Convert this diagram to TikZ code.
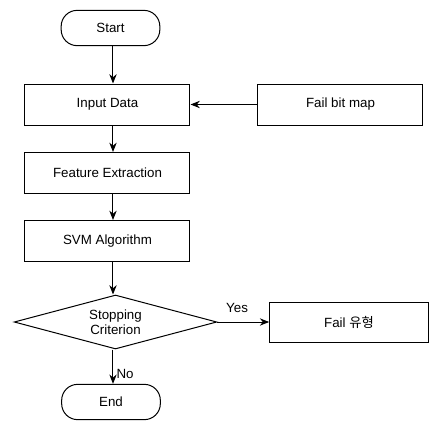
\documentclass[tikz,border=0pt]{standalone}
\usepackage{fontspec}
\setmainfont{Liberation Sans}
\newfontfamily\korfont{Noto Sans CJK KR}
\usetikzlibrary{shapes.geometric,arrows.meta}

\begin{document}
\begin{tikzpicture}[
    x=0.75pt, y=-0.75pt,
    proc/.style={rectangle, draw, minimum width=123.75pt, minimum height=30.75pt, font=\fontsize{10}{11.5}\selectfont},
    term/.style={rectangle, draw, rounded corners=12pt, minimum width=74pt, minimum height=26.5pt, font=\fontsize{10}{11.5}\selectfont},
    line width=0.75pt,
    >={Stealth[length=7pt,width=5.5pt]}
]
    \useasboundingbox (0,0) rectangle (430,422);
    \coordinate (axis) at (113, 0);

    % Main column
    \node[term] (start) at (110.5, 28) {Start};
    \node[proc] (input) at (107.5, 104.5) {Input Data};
    \node[proc] (feat) at (107.5, 173) {Feature Extraction};
    \node[proc] (svm) at (107.5, 241) {SVM Algorithm};
    \draw[->] (start.south -| axis) -- (input.north -| axis);
    \draw[->] (input.south -| axis) -- (feat.north -| axis);
    \draw[->] (feat.south -| axis) -- (svm.north -| axis);

    % Side input
    \node[proc] (fbm) at (340.5, 104.5) {Fail bit map};
    \draw[->] (fbm) -- (input);

    % Decision
    \node[diamond, draw, aspect=3.7, inner sep=0pt, minimum width=152pt, minimum height=40.5pt,
          align=center, font=\fontsize{10}{11.5}\selectfont] (crit) at (115.5, 322) {Stopping\\Criterion};
    \draw[->] (svm.south -| axis) -- (crit.north -| axis);

    % Result
    \node[proc, minimum width=119pt, minimum height=30pt] (fail) at (349, 322) {Fail {\korfont 유형}};
    \draw[->] (crit) -- node[pos=0.38, above=3pt, font=\fontsize{10}{11.5}\selectfont] {Yes} (fail);

    % End
    \node[term] (end) at (111, 402) {End};
    \draw[->] (crit.south -| axis) -- node[pos=0.7, right=-1pt, font=\fontsize{10}{11.5}\selectfont] {No} (end.north -| axis);
\end{tikzpicture}
\end{document}
